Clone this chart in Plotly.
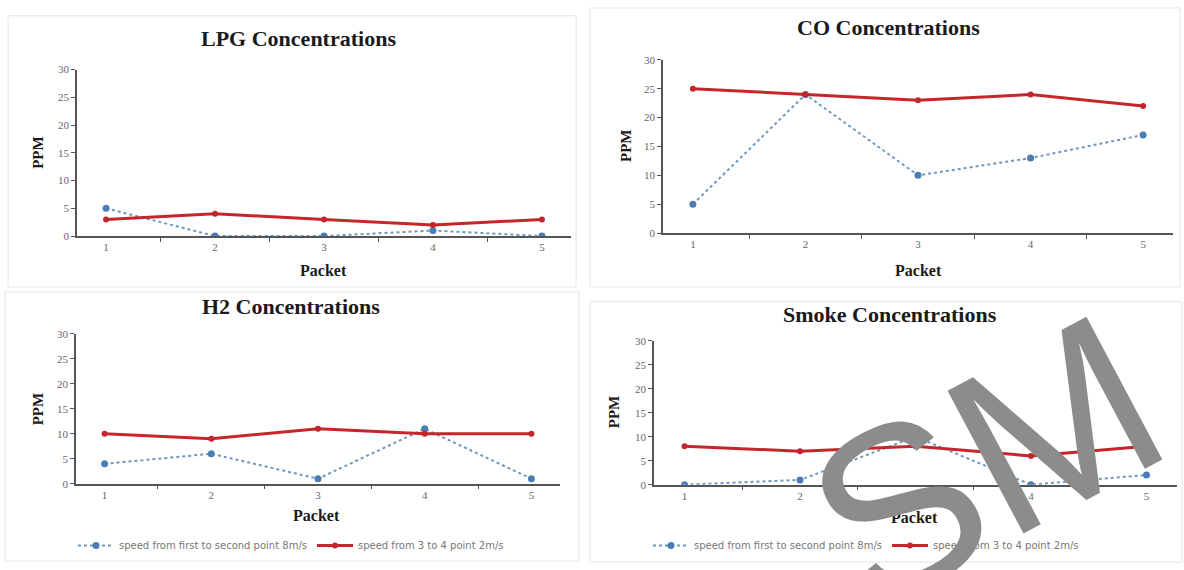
import plotly.graph_objects as go

W, H = 1184, 570

packets = ["1", "2", "3", "4", "5"]
series_names = ["speed from first to second point 8m/s", "speed from 3 to 4 point 2m/s"]

lpg_fast = [5, 0, 0, 1, 0]
lpg_slow = [3, 4, 3, 2, 3]
co_fast = [5, 24, 10, 13, 17]
co_slow = [25, 24, 23, 24, 22]
h2_fast = [4, 6, 1, 11, 1]
h2_slow = [10, 9, 11, 10, 10]
smoke_fast = [0, 1, 10, 0, 2]
smoke_slow = [8, 7, 8, 6, 8]

titles = ["LPG Concentrations", "CO Concentrations", "H2 Concentrations", "Smoke Concentrations"]
y_ticks = [0, 5, 10, 15, 20, 25, 30]


def px(x):
    return x / W


def py(y):
    return 1 - y / H


# panel geometry in pixels
panels = [
    dict(x=(77, 571), y=(65, 235), title=(298, 33), xt=(323, 270), yt=(38, 150), box=(8, 10, 576, 287), legend=None),
    dict(x=(663, 1173), y=(55, 232), title=(888, 22), xt=(918, 270), yt=(626, 143), box=(590, 2, 1180, 287), legend=None),
    dict(x=(76, 560), y=(335, 488), title=(291, 307), xt=(316, 520), yt=(38, 412), box=(5, 292, 579, 567), legend=(291, 551)),
    dict(x=(654, 1177), y=(342, 489), title=(890, 315), xt=(914, 522), yt=(614, 415), box=(590, 302, 1182, 568), legend=(866, 551)),
]

data_sets = [(lpg_fast, lpg_slow), (co_fast, co_slow), (h2_fast, h2_slow), (smoke_fast, smoke_slow)]

BLUE_LINE = "#6f97bd"
BLUE_MARK = "#4a7db5"
RED = "#c4262c"
AXIS = "#555555"
SERIF = "Liberation Serif"

fig = go.Figure()
layout = dict(
    width=W, height=H,
    margin=dict(l=0, r=0, t=0, b=0),
    paper_bgcolor="white", plot_bgcolor="white",
    showlegend=True,
    annotations=[], shapes=[],
)

legend_keys = {2: "legend", 3: "legend2"}

for i, (p, (fast, slow)) in enumerate(zip(panels, data_sets)):
    n = "" if i == 0 else str(i + 1)
    xa, ya = "x" + n, "y" + n
    lg = legend_keys.get(i)
    fig.add_trace(go.Scatter(
        x=packets, y=fast, xaxis=xa, yaxis=ya, mode="lines+markers",
        name=series_names[0],
        line=dict(color=BLUE_LINE, width=2, dash="dot"),
        marker=dict(color=BLUE_MARK, size=7, symbol="circle"),
        showlegend=lg is not None, legend=lg or "legend",
    ))
    fig.add_trace(go.Scatter(
        x=packets, y=slow, xaxis=xa, yaxis=ya, mode="lines+markers",
        name=series_names[1],
        line=dict(color=RED, width=3),
        marker=dict(color=RED, size=6, symbol="circle"),
        showlegend=lg is not None, legend=lg or "legend",
    ))
    layout["xaxis" + n] = dict(
        domain=[px(p["x"][0]), px(p["x"][1])], anchor=ya,
        type="category", tickson="boundaries", ticks="outside", ticklen=4,
        tickcolor=AXIS, showline=True, linecolor=AXIS, linewidth=1.5,
        showgrid=False, zeroline=False,
        tickfont=dict(family=SERIF, size=11, color="#666666"),
    )
    layout["yaxis" + n] = dict(
        domain=[py(p["y"][1]), py(p["y"][0])], anchor=xa,
        range=[0, 30], tickvals=y_ticks, ticks="outside", ticklen=4,
        tickcolor=AXIS, showline=True, linecolor=AXIS, linewidth=1.5,
        showgrid=False, zeroline=False,
        tickfont=dict(family=SERIF, size=11, color="#666666"),
    )
    layout["annotations"].append(dict(
        text="<b>%s</b>" % titles[i], x=px(p["title"][0]), y=py(p["title"][1]),
        xref="paper", yref="paper", xanchor="center", yanchor="middle", showarrow=False,
        font=dict(family=SERIF, size=22, color="#1a1a1a"),
    ))
    layout["annotations"].append(dict(
        text="<b>Packet</b>", x=px(p["xt"][0]), y=py(p["xt"][1]),
        xref="paper", yref="paper", xanchor="center", yanchor="middle", showarrow=False,
        font=dict(family=SERIF, size=16, color="#1a1a1a"),
    ))
    layout["annotations"].append(dict(
        text="<b>PPM</b>", x=px(p["yt"][0]), y=py(p["yt"][1]), textangle=-90,
        xref="paper", yref="paper", xanchor="center", yanchor="middle", showarrow=False,
        font=dict(family=SERIF, size=15, color="#1a1a1a"),
    ))
    b = p["box"]
    layout["shapes"].append(dict(
        type="rect", xref="paper", yref="paper",
        x0=px(b[0]), x1=px(b[2]), y0=py(b[3]), y1=py(b[1]),
        line=dict(color="#e4e4e4", width=1), layer="below",
    ))
    if p["legend"] is not None:
        layout[lg] = dict(
            orientation="h", x=px(p["legend"][0]), y=py(p["legend"][1]),
            xanchor="center", yanchor="middle", bgcolor="rgba(0,0,0,0)",
            font=dict(family="DejaVu Sans", size=10, color="#777777"),
            itemwidth=36, tracegroupgap=0,
        )

# watermark
layout["annotations"].append(dict(
    text="SM", x=px(985), y=py(465), xref="paper", yref="paper",
    xanchor="center", yanchor="middle", showarrow=False, textangle=-28,
    font=dict(family="Liberation Sans", size=235, color="#8c8c8c"),
))

fig.update_layout(**layout)
fig.write_html("out.html", post_script="document.body.style.margin='0';",
               config={"displayModeBar": False})
